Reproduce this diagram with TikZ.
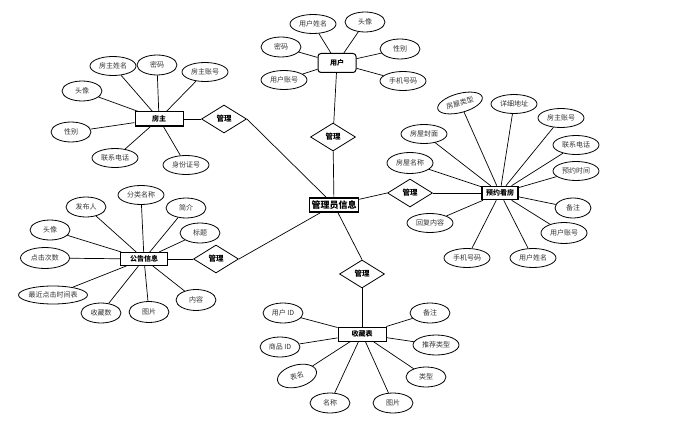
\documentclass[tikz,border=0pt]{standalone}
\usepackage{fontspec}
\setmainfont{Noto Sans CJK SC}
\usetikzlibrary{shapes.geometric}
\newcommand\attxt[1]{\makebox[0pt]{#1}}
\tikzset{
  attr/.style={draw, ellipse, line width=0.8pt, inner sep=0pt, minimum width=40pt, minimum height=20pt, font=\fontsize{7}{8}\selectfont, text=black!80},
  wattr/.style={attr, minimum width=46pt, minimum height=19pt},
  ent/.style={draw, rectangle, line width=1pt, inner sep=0pt, minimum width=48pt, minimum height=14pt, font=\fontsize{7}{8}\selectfont\bfseries},
  rel/.style={draw, diamond, line width=0.8pt, inner sep=0pt, minimum width=45pt, minimum height=28pt, font=\fontsize{7.5}{8}\selectfont\bfseries},
  conn/.style={line width=0.7pt}
}
\begin{document}
\begin{tikzpicture}[x=1pt,y=-1pt]
\useasboundingbox (0,0) rectangle (682,433);
% entities
\node[ent] (fz) at (159,119) {房主};
\node[ent, rounded corners=3pt, minimum width=38pt, minimum height=19pt] (yh) at (337,63) {用户};
\node[ent, line width=1.6pt, minimum width=49pt, font=\fontsize{9}{10}\selectfont\bfseries] (adm) at (334,205) {管理员信息};
\node[ent, line width=1.6pt, minimum width=36pt, minimum height=13pt] (yy) at (500,193) {预约看房};
\node[ent, minimum width=47pt, minimum height=13pt] (gg) at (144,259) {公告信息};
\node[ent] (sc) at (362,334) {收藏表};
% relations
\node[rel] (r1) at (224,119) {管理};
\node[rel] (r2) at (333,137) {管理};
\node[rel] (r3) at (410,193) {管理};
\node[rel] (r4) at (216,259) {管理};
\node[rel] (r5) at (362,274) {管理};
% 房主 attributes
\node[wattr] (f1) at (113,66) {\attxt{房主姓名}};
\node[attr] (f2) at (157,65) {\attxt{密码}};
\node[wattr] (f3) at (205,72) {\attxt{房主账号}};
\node[attr] (f4) at (82,91) {\attxt{头像}};
\node[attr] (f5) at (71,132) {\attxt{性别}};
\node[wattr] (f6) at (115,158) {\attxt{联系电话}};
\node[wattr] (f7) at (186,165) {\attxt{身份证号}};
% 用户 attributes
\node[wattr] (u1) at (313,24) {\attxt{用户姓名}};
\node[attr] (u2) at (365,22) {\attxt{头像}};
\node[attr] (u3) at (281,47) {\attxt{密码}};
\node[attr] (u4) at (400,49) {\attxt{性别}};
\node[wattr] (u5) at (284,80) {\attxt{用户账号}};
\node[wattr] (u6) at (403,81) {\attxt{手机号码}};
% 预约看房 attributes
\node[wattr, rotate=15] (y1) at (460,103) {\attxt{房屋类型}};
\node[wattr] (y2) at (514,104) {\attxt{详细地址}};
\node[wattr] (y3) at (561,118) {\attxt{房主账号}};
\node[wattr] (y4) at (424,134) {\attxt{房屋封面}};
\node[wattr] (y5) at (576,145) {\attxt{联系电话}};
\node[wattr, minimum height=21pt] (y6) at (410,163) {\attxt{房屋名称}};
\node[wattr] (y7) at (576,171) {\attxt{预约时间}};
\node[attr, minimum width=36pt] (y8) at (573,208) {\attxt{备注}};
\node[wattr] (y9) at (430,223) {\attxt{回复内容}};
\node[wattr, minimum height=21pt] (y10) at (564,233) {\attxt{用户账号}};
\node[wattr] (y11) at (467,258) {\attxt{手机号码}};
\node[wattr] (y12) at (533,258) {\attxt{用户姓名}};
% 公告信息 attributes
\node[attr] (g1) at (86,207) {\attxt{发布人}};
\node[wattr] (g2) at (141,195) {\attxt{分类名称}};
\node[attr] (g3) at (186,208) {\attxt{简介}};
\node[attr] (g4) at (50,230) {\attxt{头像}};
\node[attr] (g5) at (200,233) {\attxt{标题}};
\node[attr, minimum width=49pt, minimum height=21pt] (g6) at (45,258) {\attxt{点击次数}};
\node[attr, minimum width=69pt, minimum height=18pt] (g7) at (53,295) {\attxt{最近点击时间表}};
\node[attr] (g8) at (101,313) {\attxt{收藏数}};
\node[attr, minimum height=21pt] (g9) at (149,312) {\attxt{图片}};
\node[attr, minimum height=21pt] (g10) at (196,300) {\attxt{内容}};
% 收藏表 attributes
\node[attr] (s1) at (283,313) {\attxt{用户 ID}};
\node[attr] (s2) at (430,313) {\attxt{备注}};
\node[attr] (s3) at (280,347) {\attxt{商品 ID}};
\node[wattr, minimum height=20pt] (s4) at (436,345) {\attxt{推荐类型}};
\node[attr, rotate=15, minimum height=22pt] (s5) at (297,376) {\attxt{表名}};
\node[attr] (s6) at (426,377) {\attxt{类型}};
\node[attr] (s7) at (330,403) {\attxt{名称}};
\node[attr] (s8) at (393,403) {\attxt{图片}};
% connectors
\foreach \a in {f1,f2,f3,f4,f5,f6,f7} \draw[conn] (fz) -- (\a);
\foreach \a in {u1,u2,u3,u4,u5,u6} \draw[conn] (yh) -- (\a);
\foreach \a in {y1,y2,y3,y4,y5,y6,y7,y8,y9,y10,y11,y12} \draw[conn] (yy) -- (\a);
\foreach \a in {g1,g2,g3,g4,g5,g6,g7,g8,g9,g10} \draw[conn] (gg) -- (\a);
\foreach \a in {s1,s2,s3,s4,s5,s6,s7,s8} \draw[conn] (sc) -- (\a);
\draw[conn] (fz) -- (r1);
\draw[conn] (r1.east) -- (adm);
\draw[conn] (yh) -- (r2);
\draw[conn] (r2) -- (adm);
\draw[conn] (adm) -- (r3.west);
\draw[conn] (r3.east) -- (yy);
\draw[conn] (gg) -- (r4);
\draw[conn] (r4.east) -- (adm);
\draw[conn] (adm) -- (r5.north);
\draw[conn] (r5) -- (sc);
\end{tikzpicture}
\end{document}
